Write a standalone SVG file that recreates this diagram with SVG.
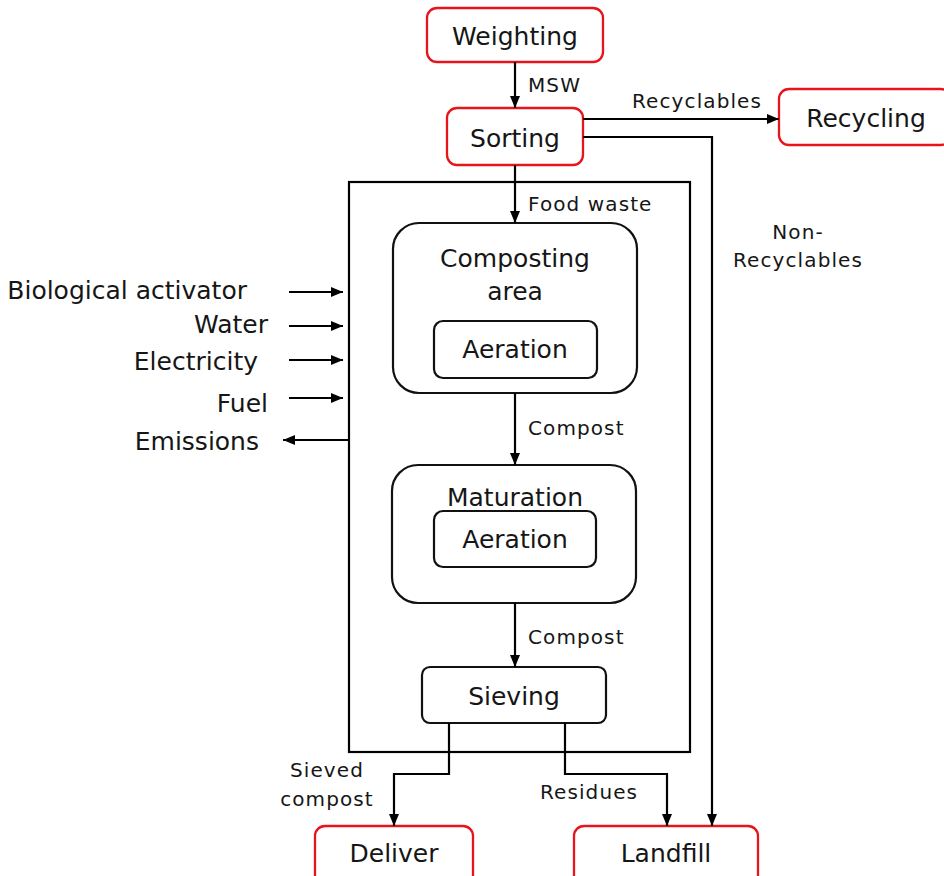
<svg xmlns="http://www.w3.org/2000/svg" width="944" height="876" viewBox="0 0 944 876">
  <defs>
    <style>
      .term rect { fill: #fff; stroke: #e8141b; stroke-width: 2.3; }
      .proc rect { fill: #fff; stroke: #111; stroke-width: 2.2; }
      .main { font-family: "DejaVu Sans", "Liberation Sans", sans-serif; font-size: 25px; fill: #161616; }
      .lbl { font-family: "DejaVu Sans", "Liberation Sans", sans-serif; font-size: 20px; letter-spacing: 1.1px; fill: #161616; }
      .mid { text-anchor: middle; }
      .end { text-anchor: end; }
      .wire { fill: none; stroke: #000; stroke-width: 2.2; }
    </style>
    <marker id="arrow" viewBox="0 0 12 10" refX="12" refY="5" markerWidth="12" markerHeight="10" markerUnits="userSpaceOnUse" orient="auto">
      <path d="M0,0 L12,5 L0,10 z" fill="#000"/>
    </marker>
  </defs>
  <rect width="944" height="876" fill="#fff"/>

  <!-- composting plant boundary -->
  <rect id="plant" x="349" y="182" width="341" height="570" fill="none" stroke="#000" stroke-width="2.2"/>

  <g id="weighting" class="term">
    <rect x="427" y="8" width="176" height="54" rx="10"/>
    <text class="main mid" x="515" y="45">Weighting</text>
  </g>
  <g id="sorting" class="term">
    <rect x="447" y="108" width="136" height="57" rx="10"/>
    <text class="main mid" x="515" y="147">Sorting</text>
  </g>
  <g id="recycling" class="term">
    <rect x="779" y="89" width="172" height="56" rx="10"/>
    <text class="main mid" x="866" y="127">Recycling</text>
  </g>
  <g id="composting" class="proc">
    <rect x="393" y="223" width="244" height="170" rx="26"/>
    <text class="main mid" x="515" y="267">Composting</text>
    <text class="main mid" x="515" y="300">area</text>
  </g>
  <g id="aeration1" class="proc">
    <rect x="434" y="321" width="163" height="57" rx="9"/>
    <text class="main mid" x="515" y="358">Aeration</text>
  </g>
  <g id="maturation" class="proc">
    <rect x="392" y="465" width="244" height="138" rx="26"/>
    <text class="main mid" x="515" y="506">Maturation</text>
  </g>
  <g id="aeration2" class="proc">
    <rect x="434" y="511" width="162" height="56" rx="9"/>
    <text class="main mid" x="515" y="548">Aeration</text>
  </g>
  <g id="sieving" class="proc">
    <rect x="422" y="667" width="184" height="56" rx="8"/>
    <text class="main mid" x="514" y="705">Sieving</text>
  </g>
  <g id="deliver" class="term">
    <rect x="315" y="826" width="158" height="62" rx="10"/>
    <text class="main mid" x="394" y="862">Deliver</text>
  </g>
  <g id="landfill" class="term">
    <rect x="574" y="826" width="184" height="62" rx="10"/>
    <text class="main mid" x="666" y="862">Landfill</text>
  </g>

  <!-- external inputs and outputs -->
  <g id="flows-left">
    <text class="main end" x="247" y="299">Biological activator</text>
    <text class="main end" x="268" y="333">Water</text>
    <text class="main end" x="258" y="370">Electricity</text>
    <text class="main end" x="268" y="412">Fuel</text>
    <text class="main end" x="259" y="450">Emissions</text>
  </g>

  <g id="connectors">
    <path class="wire" d="M515,62 V108" marker-end="url(#arrow)"/>
    <path class="wire" d="M583,119 H779" marker-end="url(#arrow)"/>
    <path class="wire" d="M583,137 H712 V826" marker-end="url(#arrow)"/>
    <path class="wire" d="M515,165 V223" marker-end="url(#arrow)"/>
    <path class="wire" d="M515,393 V465" marker-end="url(#arrow)"/>
    <path class="wire" d="M515,603 V667" marker-end="url(#arrow)"/>
    <path class="wire" d="M449,723 V774 H394 V826" marker-end="url(#arrow)"/>
    <path class="wire" d="M565,723 V774 H667 V826" marker-end="url(#arrow)"/>
    <path class="wire" d="M289,292 H343" marker-end="url(#arrow)"/>
    <path class="wire" d="M289,326 H343" marker-end="url(#arrow)"/>
    <path class="wire" d="M289,360 H343" marker-end="url(#arrow)"/>
    <path class="wire" d="M289,398 H343" marker-end="url(#arrow)"/>
    <path class="wire" d="M349,440 H283" marker-end="url(#arrow)"/>

    <text class="lbl" x="528" y="92">MSW</text>
    <text class="lbl" x="632" y="108">Recyclables</text>
    <text class="lbl mid" x="798" y="239">Non-</text>
    <text class="lbl mid" x="798" y="267">Recyclables</text>
    <text class="lbl" x="528" y="211">Food waste</text>
    <text class="lbl" x="528" y="435">Compost</text>
    <text class="lbl" x="528" y="644">Compost</text>
    <text class="lbl mid" x="327" y="777">Sieved</text>
    <text class="lbl mid" x="327" y="806">compost</text>
    <text class="lbl mid" x="589" y="799">Residues</text>
  </g>
</svg>
